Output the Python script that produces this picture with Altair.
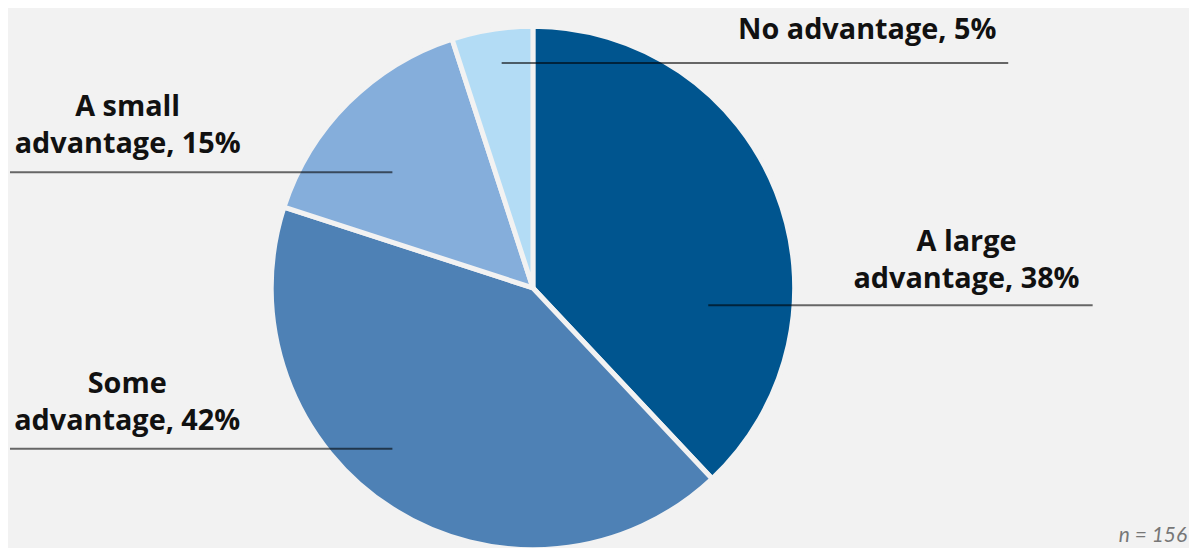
import altair as alt
import pandas as pd

categories = ["A large advantage", "Some advantage", "A small advantage", "No advantage"]
values = [38, 42, 15, 5]
colors = ["#00558f", "#4e81b5", "#85aedb", "#b3dcf5"]
label_text = [
    "A large\nadvantage, 38%",
    "Some\nadvantage, 42%",
    "A small\nadvantage, 15%",
    "No advantage, 5%",
]
note = "n = 156"

BG = "#f2f2f2"
df = pd.DataFrame({"category": categories, "value": values, "order": list(range(len(values)))})

pie = alt.Chart(df).mark_arc(radius=263.5, stroke=BG, strokeWidth=5).encode(
    theta=alt.Theta("value:Q", stack=True),
    order=alt.Order("order:Q"),
    color=alt.Color("category:N", scale=alt.Scale(domain=categories, range=colors), legend=None),
    x=alt.value(528.5),
    y=alt.value(280),
)

# annotation layout (pixel positions of labels and leader lines)
layout = {
    "A large advantage": dict(tx=965, ty=243, lx1=705, lx2=1092, ly=297.5),
    "Some advantage": dict(tx=120, ty=386, lx1=2, lx2=387, ly=442),
    "A small advantage": dict(tx=120.5, ty=107, lx1=2, lx2=387, ly=163.5),
    "No advantage": dict(tx=865, ty=29.7, lx1=497, lx2=1007, ly=53.5),
}

layers = [pie]
base = alt.Chart(df)
for cat, txt in zip(categories, label_text):
    p = layout[cat]
    sub = base.transform_filter(alt.datum.category == cat)
    layers.append(
        sub.mark_rule(color="#000000", opacity=0.58, strokeWidth=2).encode(
            x=alt.value(p["lx1"]), x2=alt.value(p["lx2"]), y=alt.value(p["ly"])
        )
    )
    layers.append(
        sub.mark_text(
            text=txt.split("\n"),
            font="Open Sans",
            fontWeight="bold",
            fontSize=29,
            color="#111111",
            align="center",
            baseline="alphabetic",
            lineHeight=37.5,
        ).encode(x=alt.value(p["tx"]), y=alt.value(p["ty"]))
    )

layers.append(
    base.transform_filter(alt.datum.order == 0).mark_text(
        text=note, font="Lato", fontStyle="italic", fontSize=21, color="#777777",
        align="right", baseline="alphabetic",
    ).encode(x=alt.value(1187), y=alt.value(536))
)

chart = alt.layer(*layers).properties(
    width=1189, height=540, padding=0, background=BG,
    autosize=alt.AutoSizeParams(type="none"),
).configure_view(stroke=None)

chart.save("out.html", embed_options={"renderer": "svg", "actions": False})
